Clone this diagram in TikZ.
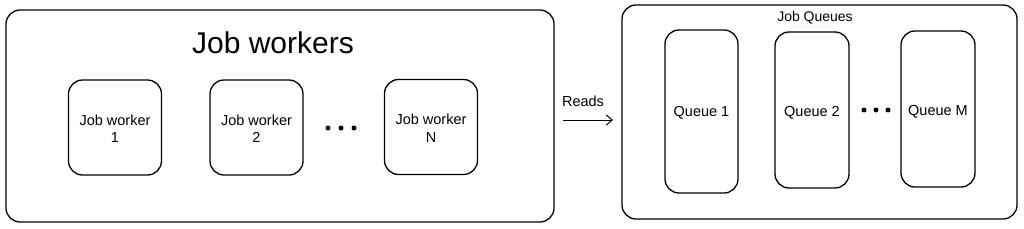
\documentclass[tikz,border=0pt]{standalone}
\usepackage{fontspec}
\setmainfont{Liberation Sans}
\usetikzlibrary{arrows.meta}
\begin{document}
\begin{tikzpicture}[x=1pt,y=-1pt,
  box/.style={draw=black, line width=1.3pt, rounded corners=14pt, inner sep=0pt},
  lbl/.style={font=\fontsize{14.5}{17.5}\selectfont, align=center, inner sep=0pt},
  dot/.style={circle, fill=black, inner sep=0pt, minimum size=5pt}]
\useasboundingbox (0,0) rectangle (1024,228);
% Left container
\node[box, minimum width=548pt, minimum height=212pt] (workers) at (280,116) {};
\node[inner sep=0pt, font=\fontsize{30}{33}\selectfont] (wtitle) at (273,43) {Job workers};
\node[box, minimum width=93pt, minimum height=95pt] (w1) at (115,127.5) {};
\node[lbl] at ([yshift=-1pt]w1.center) {Job worker\\1};
\node[box, minimum width=93pt, minimum height=95pt] (w2) at (256.5,127.5) {};
\node[lbl] at ([yshift=-1pt]w2.center) {Job worker\\2};
\node[box, minimum width=93pt, minimum height=95pt] (wn) at (431,127) {};
\node[lbl] at ([yshift=-1pt]wn.center) {Job worker\\N};
\node[dot] (d1) at (328,128) {};
\node[dot] (d2) at (341,128) {};
\node[dot] (d3) at (354,128) {};
% Arrow
\coordinate (as) at (563,120);
\coordinate (ae) at (613,120);
\draw[line width=1pt, -{Straight Barb[length=6pt,width=10pt]}] (as) -- (ae);
\node[lbl, anchor=base] (reads) at (583,106) {Reads};
% Right container
\node[box, minimum width=395pt, minimum height=214pt] (queues) at (819.5,112) {};
\node[inner sep=0pt, font=\fontsize{14}{16}\selectfont] (qtitle) at (815,18) {Job Queues};
\node[box, minimum width=73pt, minimum height=163pt] (q1) at (701.5,111.5) {};
\node[lbl] at ([yshift=-1pt]q1.center) {Queue 1};
\node[box, minimum width=74pt, minimum height=156pt] (q2) at (812,110) {};
\node[lbl] at ([yshift=-3pt]q2.center) {Queue 2};
\node[box, minimum width=74pt, minimum height=156pt] (qm) at (938,109) {};
\node[lbl] at ([yshift=-3pt]qm.center) {Queue M};
\node[dot] (e1) at (864,110) {};
\node[dot] (e2) at (876,110) {};
\node[dot] (e3) at (888,110) {};
\end{tikzpicture}
\end{document}
